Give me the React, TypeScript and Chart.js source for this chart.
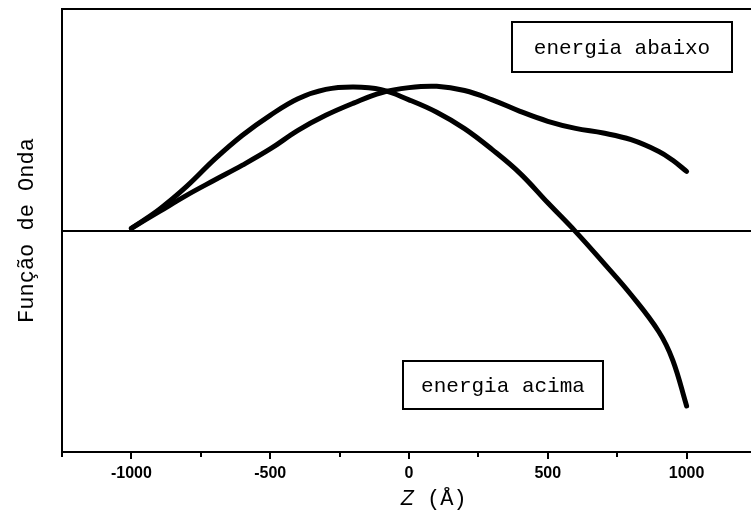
import React, { useEffect, useRef } from "react";
import { Chart, registerables } from "chart.js";

Chart.register(...registerables);

// Position along the growth axis, in ångström
const zPositions = [-1000, -900, -800, -700, -600, -500, -400, -300, -200, -100, 0, 100, 200, 300, 400, 500, 600, 700, 800, 900, 950, 1000];

// Wave function for the state with energy below the barrier edge
const waveBelow = [0.01, 0.085, 0.16, 0.228, 0.295, 0.368, 0.452, 0.52, 0.575, 0.622, 0.645, 0.651, 0.632, 0.59, 0.538, 0.493, 0.461, 0.44, 0.41, 0.357, 0.317, 0.267];

// Wave function for the state with energy above it
const waveAbove = [0.01, 0.095, 0.2, 0.322, 0.43, 0.52, 0.595, 0.637, 0.648, 0.636, 0.59, 0.534, 0.46, 0.365, 0.258, 0.125, -0.005, -0.145, -0.29, -0.457, -0.585, -0.792];

// Axis ticks
const tickValues = [-1250, -1000, -750, -500, -250, 0, 250, 500, 750, 1000, 1250];
const tickLabels = ["", "-1000", "", "-500", "", "0", "", "500", "", "1000", ""];

const noteLabels = ["energia abaixo", "energia acima"];

const MONO = "'Liberation Mono', 'Courier New', monospace";

const decorations = {
  id: "decorations",
  afterDraw(chart: any) {
    const { ctx, chartArea } = chart;
    const x = chart.scales.x;
    const y = chart.scales.y;
    ctx.save();
    ctx.strokeStyle = "#000";
    ctx.lineWidth = 2;

    // tick marks below the axis, longer on the labelled ones
    tickValues.forEach((v, i) => {
      const px = Math.round(x.getPixelForValue(v));
      const len = tickLabels[i] !== "" ? 7 : 5;
      ctx.beginPath();
      ctx.moveTo(px, chartArea.bottom);
      ctx.lineTo(px, chartArea.bottom + len);
      ctx.stroke();
    });

    // boxed captions: [zLeft, zRight, top, bottom]
    const boxes = [
      [370, 1165, 0.941, 0.715],
      [-22, 698, -0.588, -0.805],
    ];
    ctx.font = `21px ${MONO}`;
    ctx.textAlign = "center";
    ctx.textBaseline = "middle";
    boxes.forEach((b, i) => {
      const l = Math.round(x.getPixelForValue(b[0]));
      const r = Math.round(x.getPixelForValue(b[1]));
      const t = Math.round(y.getPixelForValue(b[2]));
      const btm = Math.round(y.getPixelForValue(b[3]));
      ctx.fillStyle = "#fff";
      ctx.fillRect(l, t, r - l, btm - t);
      ctx.strokeRect(l, t, r - l, btm - t);
      ctx.fillStyle = "#000";
      ctx.fillText(noteLabels[i], (l + r) / 2, (t + btm) / 2 + 1);
    });

    // axis title: italic Z followed by the unit
    const titleY = 499;
    const startX = x.getPixelForValue(-30);
    ctx.textAlign = "left";
    ctx.font = `italic 22px ${MONO}`;
    ctx.fillText("Z", startX, titleY);
    const zw = ctx.measureText("Z ").width;
    ctx.font = `22px ${MONO}`;
    ctx.fillText("(Å)", startX + zw, titleY);
    ctx.restore();
  },
};

export default function App() {
  const canvasRef = useRef<HTMLCanvasElement | null>(null);

  useEffect(() => {
    const canvas = canvasRef.current;
    if (!canvas) return;
    const chart = new Chart(canvas, {
      type: "line",
      data: {
        datasets: [
          {
            label: "energia abaixo",
            data: zPositions.map((z, i) => ({ x: z, y: waveBelow[i] })),
          },
          {
            label: "energia acima",
            data: zPositions.map((z, i) => ({ x: z, y: waveAbove[i] })),
          },
        ].map((d) => ({
          ...d,
          borderColor: "#000",
          borderWidth: 5,
          borderCapStyle: "round" as const,
          borderJoinStyle: "round" as const,
          pointRadius: 0,
          tension: 0.4,
          fill: false,
        })),
      },
      options: {
        animation: false,
        responsive: false,
        devicePixelRatio: 1,
        layout: { padding: { left: 0, top: 9, right: 14, bottom: 0 } },
        plugins: {
          legend: { display: false },
          tooltip: { enabled: false },
        },
        scales: {
          x: {
            type: "linear",
            min: -1250,
            max: 1250,
            afterFit: (s: any) => {
              s.height = 67;
            },
            afterBuildTicks: (s: any) => {
              s.ticks = tickValues.map((v) => ({ value: v }));
            },
            ticks: {
              autoSkip: false,
              maxRotation: 0,
              padding: 12,
              color: "#000",
              font: { family: "'Liberation Sans', Arial, sans-serif", size: 16, weight: "bold" },
              callback: (v: any) => {
                const i = tickValues.indexOf(Number(v));
                return i >= 0 ? tickLabels[i] : "";
              },
            },
            grid: { display: true, drawOnChartArea: false, drawTicks: false },
            border: { display: true, color: "#000", width: 2 },
          },
          y: {
            type: "linear",
            min: -1,
            max: 1,
            afterFit: (s: any) => {
              s.width = 62;
            },
            ticks: { display: false, stepSize: 1 },
            grid: {
              drawTicks: false,
              lineWidth: 2,
              color: (c: any) => (c.tick && c.tick.value >= 0 ? "#000" : "rgba(0,0,0,0)"),
            },
            border: { display: true, color: "#000", width: 2 },
            title: {
              display: true,
              text: "Função de Onda",
              color: "#000",
              font: { family: MONO, size: 22 },
              padding: { top: 14, bottom: 0 },
            },
          },
        },
      },
      plugins: [decorations],
    });
    return () => chart.destroy();
  }, []);

  return (
    <div
      style={{
        position: "fixed",
        left: 0,
        top: 0,
        width: 751,
        height: 519,
        overflow: "hidden",
        background: "#fff",
      }}
    >
      <canvas ref={canvasRef} width={770} height={519} style={{ display: "block", width: 770, height: 519 }} />
    </div>
  );
}
